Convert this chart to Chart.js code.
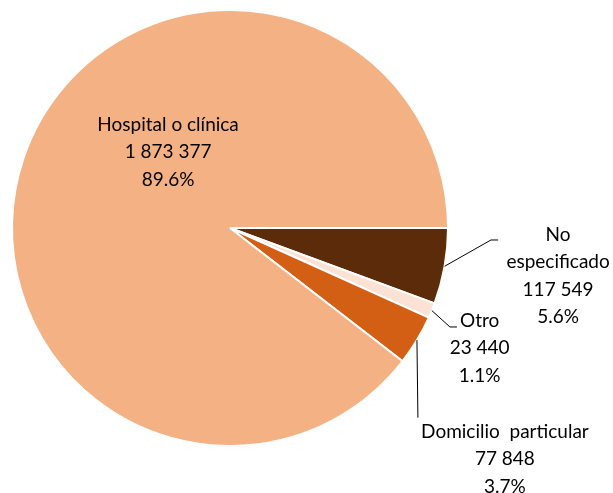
<!DOCTYPE html>
<html>
<head>
<meta charset="utf-8">
<script src="https://cdn.jsdelivr.net/npm/chart.js@4.4.1/dist/chart.umd.min.js"></script>
<style>
  html, body { margin: 0; padding: 0; background: #ffffff; }
  #wrap { width: 613px; height: 493px; }
</style>
</head>
<body>
<div id="wrap"><canvas id="chart" width="613" height="493"></canvas></div>
<script>
// data, in drawing order clockwise from 3 o'clock
const categories = ['No especificado', 'Otro', 'Domicilio particular', 'Hospital o clínica'];
const values = [117549, 23440, 77848, 1873377];
const percents = ['5.6%', '1.1%', '3.7%', '89.6%'];
const valueLabels = ['117 549', '23 440', '77 848', '1 873 377'];
const colors = ['#5C2B09', '#FBE2D5', '#D35F15', '#F4B183'];

// label text lines for each slice (name may wrap)
const nameLines = [['No', 'especificado'], ['Otro'], ['Domicilio  particular'], ['Hospital o clínica']];

// label placement, in units of the pie radius from its centre
const labelPos = [
  { x: 1.505, y: 0.22, elbow: { x: 1.197, y: 0.055 }, end: { x: 1.23, y: 0.055 } },
  { x: 1.145, y: 0.55, elbow: { x: 1.009, y: 0.454 }, end: { x: 1.041, y: 0.454 } },
  { x: 1.261, y: 1.06, elbow: { x: 0.862, y: 0.87 }, end: null },
  { x: -0.284, y: -0.349, elbow: null, end: null }
];

const FONT = '19px Lato, "Open Sans", sans-serif';
const LINE_H = 27.5;

const labelPlugin = {
  id: 'sliceLabels',
  afterDatasetsDraw(chart) {
    const ctx = chart.ctx;
    const meta = chart.getDatasetMeta(0);
    ctx.save();
    ctx.font = FONT;
    ctx.fillStyle = '#000000';
    ctx.textAlign = 'center';
    ctx.textBaseline = 'middle';
    meta.data.forEach((arc, i) => {
      const p = arc.getProps(['x', 'y', 'startAngle', 'endAngle', 'outerRadius'], true);
      const r = p.outerRadius;
      const mid = (p.startAngle + p.endAngle) / 2;
      const lp = labelPos[i];

      // leader line
      if (lp.elbow) {
        ctx.beginPath();
        ctx.strokeStyle = '#000000';
        ctx.lineWidth = 1;
        ctx.moveTo(p.x + Math.cos(mid) * r, p.y + Math.sin(mid) * r);
        ctx.lineTo(p.x + lp.elbow.x * r, p.y + lp.elbow.y * r);
        if (lp.end) ctx.lineTo(p.x + lp.end.x * r, p.y + lp.end.y * r);
        ctx.stroke();
      }

      const lines = nameLines[i].concat([valueLabels[i], percents[i]]);
      const cx = p.x + lp.x * r;
      const cy = p.y + lp.y * r;
      const top = cy - (lines.length - 1) * LINE_H / 2;
      lines.forEach((t, k) => ctx.fillText(t, cx, top + k * LINE_H));
    });
    ctx.restore();
  }
};

new Chart(document.getElementById('chart').getContext('2d'), {
  type: 'pie',
  data: {
    labels: categories,
    datasets: [{
      data: values,
      backgroundColor: colors,
      borderColor: '#ffffff',
      borderWidth: 2
    }]
  },
  options: {
    responsive: false,
    animation: false,
    rotation: 90,
    layout: { padding: { left: 11, right: 164, top: 9, bottom: 46 } },
    plugins: {
      legend: { display: false },
      tooltip: { enabled: false }
    }
  },
  plugins: [labelPlugin]
});
</script>
</body>
</html>
